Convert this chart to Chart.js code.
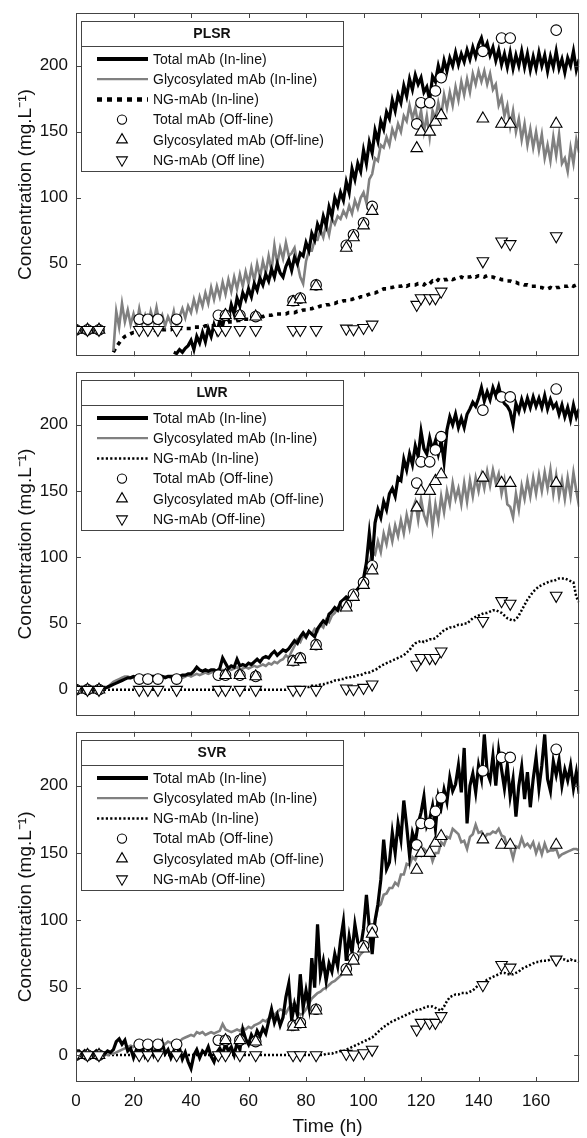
<!DOCTYPE html>
<html><head><meta charset="utf-8">
<script src="https://cdn.jsdelivr.net/npm/chart.js@4"></script>
<style>
html,body{margin:0;padding:0;background:#fff;}
#wrap{position:relative;width:587px;height:1138px;background:#fff;overflow:hidden;}
canvas{position:absolute;left:0;}
</style></head><body>
<div id="wrap">
<canvas id="c1" width="587" height="364" style="top:0px;width:587px;height:364px"></canvas>
<canvas id="c2" width="587" height="360" style="top:364px;width:587px;height:360px"></canvas>
<canvas id="c3" width="587" height="414" style="top:724px;width:587px;height:414px"></canvas>
</div>
<script>
// ---------- DATA ----------
const timeH = [
0,1,2,3,4,5,6,7,8,9,
10,11,12,13,14,15,16,17,18,19,
20,21,22,23,24,25,26,27,28,29,
30,31,32,33,34,35,36,37,38,39,
40,41,42,43,44,45,46,47,48,49,
50,51,52,53,54,55,56,57,58,59,
60,61,62,63,64,65,66,67,68,69,
70,71,72,73,74,75,76,77,78,79,
80,81,82,83,84,85,86,87,88,89,
90,91,92,93,94,95,96,97,98,99,
100,101,102,103,104,105,106,107,108,109,
110,111,112,113,114,115,116,117,118,119,
120,121,122,123,124,125,126,127,128,129,
130,131,132,133,134,135,136,137,138,139,
140,141,142,143,144,145,146,147,148,149,
150,151,152,153,154,155,156,157,158,159,
160,161,162,163,164,165,166,167,168,169,
170,171,172,173,174,175];

// PLSR in-line
const plsrTotal = [
null,null,null,null,null,null,null,null,null,null,
null,null,null,null,null,null,null,null,null,null,
null,null,null,null,null,null,null,null,null,null,
null,null,null,null,-17,-18,-15,-17,-14,-12,
-8,-15,-5,-10,-2,-9,1,-5,4,-2,
7,3,13,8,19,12,24,18,28,23,
31,25,35,30,39,34,42,37,46,40,
50,43,40,48,53,45,55,50,58,56,
66,60,73,68,80,75,86,79,93,86,
100,94,104,98,112,104,122,114,126,120,
136,126,142,134,151,143,158,152,165,160,
174,166,178,172,185,177,190,182,193,186,
191,180,184,174,192,188,200,192,204,196,
206,200,210,201,209,203,212,205,214,207,
216,221,212,217,208,214,204,212,201,209,
199,210,198,208,200,211,199,209,197,207,
198,210,200,208,196,207,199,211,198,205,
195,206,200,211,197,205];
const plsrGly = [
null,null,null,null,null,null,null,null,null,null,
null,null,null,-16,14,2,20,6,15,4,
12,3,16,5,11,2,14,6,17,5,
11,3,10,5,14,2,10,16,9,18,
13,23,15,25,18,28,20,32,23,33,
25,36,27,38,29,40,31,42,33,44,
35,47,37,50,40,52,43,56,45,64,
50,62,54,66,56,58,62,50,40,35,
52,60,60,68,68,76,70,80,72,84,
80,86,84,90,86,94,88,98,92,100,
104,96,114,118,130,128,140,138,146,140,
152,146,156,150,162,158,170,160,168,156,
166,150,162,146,166,160,172,162,178,168,
180,170,184,174,188,178,190,180,194,186,
196,188,196,186,194,182,186,170,176,162,
170,154,166,150,160,144,156,140,152,138,
150,136,148,130,140,128,146,132,148,126,
130,120,138,126,144,134];
const plsrNG = [
null,null,null,null,null,null,null,null,null,null,
null,null,null,-17,-13,-10,-7,-5,-4,-3,
-2,-2,-1,-1,0,-1,0,0,-1,0,
0,0,0,0,1,0,1,1,1,1,
1,2,2,2,2,3,3,3,3,4,
4,5,5,6,6,6,7,7,8,8,
8,9,9,10,10,10,11,11,11,12,
12,12,12,12,13,13,13,14,14,15,
15,16,16,17,17,18,18,19,19,20,
20,21,21,22,22,23,23,24,24,25,
25,26,27,28,28,29,30,31,31,32,
32,33,33,33,34,33,34,34,34,35,
35,34,36,35,37,36,38,37,38,38,
39,38,39,39,40,39,40,40,41,40,
41,41,40,41,40,40,39,39,38,38,
37,37,36,36,35,35,34,34,33,33,
33,32,32,31,31,32,31,32,32,33,
33,33,34,33,34,34];

// LWR in-line
const lwrTotal = [
0,0,0,0,0,0,0,0,0,0,
1,2,3,4,5,6,7,8,9,9,
10,9,10,9,10,9,10,10,9,10,
10,9,10,10,10,10,10,11,11,12,
12,14,17,15,14,15,14,15,15,14,
16,24,20,16,18,17,23,18,19,18,
20,19,21,23,21,24,25,24,27,29,
26,28,30,29,31,34,37,35,40,43,
40,44,42,40,46,49,52,50,57,59,
62,60,66,68,70,69,72,74,76,79,
84,96,118,98,126,136,130,142,136,148,
152,146,160,158,174,166,178,170,184,176,
195,182,178,190,181,188,178,188,172,196,
206,200,208,198,205,198,208,212,217,214,
220,228,218,225,219,228,222,229,220,216,
214,210,200,216,210,219,212,220,213,221,
214,220,213,222,212,219,213,216,208,215,
206,213,204,215,206,212];
const lwrGly = [
0,0,0,0,0,0,0,0,0,0,
1,2,4,6,7,8,9,10,10,9,
10,10,9,10,11,10,9,10,10,9,
10,10,10,9,10,10,10,9,10,11,
10,11,12,11,12,13,12,13,14,13,
14,15,14,16,15,16,17,15,16,17,
16,17,18,17,18,19,18,20,19,21,
20,22,23,26,24,29,33,38,36,41,
39,44,42,46,44,49,47,53,51,56,
58,62,60,66,64,70,68,74,76,80,
84,92,95,104,102,112,104,118,110,122,
112,124,116,128,118,132,122,136,142,128,
144,132,126,142,122,140,128,146,134,150,
140,156,144,152,140,156,142,158,146,160,
150,162,152,165,154,166,156,163,148,158,
140,138,130,148,136,154,144,158,146,160,
148,162,150,164,152,166,148,162,146,158,
144,160,146,164,150,138];
const lwrNG = [
0,0,0,0,0,0,0,0,0,0,
0,0,0,0,0,0,0,0,0,0,
0,0,0,0,0,0,0,0,0,0,
0,0,0,0,0,0,0,0,0,0,
0,0,0,0,0,0,0,0,0,0,
0,0,0,0,0,0,0,0,0,0,
0,0,0,0,0,0,0,0,0,0,
0,0,0,0,1,1,1,1,2,2,
2,2,3,3,3,4,4,5,5,6,
7,7,8,8,9,9,10,10,11,11,
12,13,13,14,15,16,18,19,20,21,
22,23,24,25,26,28,30,33,35,36,
37,36,37,38,38,39,41,43,45,46,
47,47,48,49,49,50,50,52,54,55,
56,57,58,58,59,60,60,59,58,56,
54,53,52,53,56,60,64,68,71,74,
76,78,79,80,81,82,82,83,84,84,
84,83,82,81,70,66];

// SVR in-line
const svrTotal = [
2,3,1,3,0,2,1,3,0,2,
1,3,2,4,10,12,8,11,3,5,
-2,4,1,6,-1,3,7,0,5,2,
9,1,4,-2,3,0,5,-3,2,-5,
-10,0,4,-2,3,1,6,-1,-5,2,
5,1,8,3,6,0,9,4,19,12,
8,15,11,18,14,20,16,25,34,24,
30,22,28,43,53,26,38,30,60,35,
48,36,72,50,97,60,70,55,68,62,
75,66,85,99,70,88,76,97,84,80,
94,119,95,75,100,112,130,160,138,143,
165,150,172,160,189,170,148,165,158,172,
180,192,170,175,185,168,192,184,197,188,
206,196,201,215,195,228,172,200,209,195,
215,205,238,210,204,222,200,226,212,198,
215,192,205,177,200,214,190,210,184,205,
221,198,215,238,205,196,218,208,219,200,
212,204,215,198,210,194];
const svrGly = [
0,0,0,1,0,1,0,0,1,0,
1,0,1,1,2,3,4,5,6,7,
6,8,7,8,7,8,9,8,9,8,
9,8,10,9,10,11,10,12,13,14,
15,14,17,16,17,15,16,17,16,17,
18,23,19,18,17,18,19,18,20,19,
21,20,22,23,24,26,25,27,28,30,
32,34,33,31,35,38,36,32,30,31,
34,38,42,44,46,47,49,50,52,54,
55,57,59,61,63,66,68,70,72,75,
77,82,84,92,99,110,112,119,120,124,
124,128,126,134,134,142,141,147,145,150,
148,153,151,152,144,150,150,158,156,162,
161,168,166,164,158,159,153,162,164,171,
165,166,161,164,164,166,165,168,163,162,
154,154,146,155,154,161,155,157,154,158,
150,156,149,157,151,152,152,153,147,149,
150,151,152,153,153,152];
const svrNG = [
0,0,0,0,0,0,0,0,0,0,
0,0,0,0,0,0,0,0,0,0,
0,0,0,0,0,0,0,0,0,0,
0,0,0,0,0,0,0,0,0,0,
0,0,0,0,0,0,0,0,0,0,
0,0,0,0,0,0,0,0,0,0,
0,0,0,0,0,0,0,0,0,0,
0,0,0,0,0,0,0,0,0,0,
0,0,0,0,0,0,0,1,1,1,
2,2,3,3,4,5,6,7,8,9,
10,11,12,13,15,17,19,21,22,24,
25,26,27,28,29,30,31,32,33,34,
34,35,36,36,36,35,34,33,36,40,
43,44,45,45,46,46,46,47,48,50,
52,53,54,56,57,58,59,60,61,61,
60,60,60,61,62,64,65,66,67,68,
69,69,70,70,70,71,71,71,72,71,
71,70,71,70,70,69];

// Off-line measurements (shared)
const offTime  = [0,4,8,22,25,28.5,35,49.5,52,57,62.5,75.5,78,83.5,94,96.5,100,103,118.5,120,123,125,127,141.5,148,151,167];
const offTotal = [0,0,0,8,8,8,8,11,11,11,10,22,24,34,64,72,81,93.5,156,172,172,181,191,211,221,221,227];
const offGly   = [0,0,0,null,null,null,null,null,11,11,10,21,23,33,62,70,79,90,137.5,150,150,157.5,162.5,160,156,156,156];
const offNG    = [0,0,0,0,0,0,0,0,0,0,0,0,0,0,1,0.5,1.5,4,19,24,24,24,29,52,67,65,71];

// Axis ticks
const xTickValues = [0,20,40,60,80,100,120,140,160];
const yTicksPLSR = [50,100,150,200];
const yTicksOther = [0,50,100,150,200];

// ---------- RENDER ----------
const FONT = "'Liberation Sans', Arial, Helvetica, sans-serif";
const TXT = '#111';
const GRAY = '#808080';

function pts(xs, ys){ return xs.map((x,i)=>({x:x, y:ys[i]})); }

function drawMarker(ctx, style, x, y, r){
  ctx.beginPath();
  if (style === 'circle') {
    ctx.arc(x, y, r, 0, Math.PI*2);
  } else {
    let rad = style === 'down' ? Math.PI : 0;
    const T = Math.PI*2/3;
    ctx.moveTo(x + Math.sin(rad)*r, y - Math.cos(rad)*r);
    rad += T; ctx.lineTo(x + Math.sin(rad)*r, y - Math.cos(rad)*r);
    rad += T; ctx.lineTo(x + Math.sin(rad)*r, y - Math.cos(rad)*r);
    ctx.closePath();
  }
  ctx.fillStyle = '#fff'; ctx.fill();
  ctx.strokeStyle = '#000'; ctx.lineWidth = 1.1; ctx.setLineDash([]); ctx.stroke();
}

const framePlugin = {
  id: 'frame',
  afterDatasetsDraw(chart, args, o){
    const ctx = chart.ctx, a = chart.chartArea, sx = chart.scales.x, sy = chart.scales.y;
    ctx.save();
    ctx.setLineDash([]);
    ctx.strokeStyle = '#444'; ctx.lineWidth = 1;
    ctx.strokeRect(Math.round(a.left)+0.5, Math.round(a.top)+0.5, Math.round(a.right-a.left)-1, Math.round(a.bottom-a.top)-1);
    const tl = 5;
    ctx.beginPath();
    o.xTicks.forEach(v => {
      const x = Math.round(sx.getPixelForValue(v)) + 0.5;
      if (x <= a.left + 2 || x >= a.right - 2) return;
      ctx.moveTo(x, a.bottom); ctx.lineTo(x, a.bottom - tl);
      ctx.moveTo(x, a.top); ctx.lineTo(x, a.top + tl);
    });
    o.yTicks.forEach(v => {
      const y = Math.round(sy.getPixelForValue(v)) + 0.5;
      ctx.moveTo(a.left, y); ctx.lineTo(a.left + tl, y);
      ctx.moveTo(a.right, y); ctx.lineTo(a.right - tl, y);
    });
    ctx.stroke();
    ctx.restore();
  }
};

const boxLegendPlugin = {
  id: 'boxLegend',
  afterDraw(chart, args, o){
    const ctx = chart.ctx, a = chart.chartArea;
    const L = Math.round(a.left) + 5, T = Math.round(a.top) + 8, W = 262, H = 150;
    ctx.save();
    ctx.setLineDash([]);
    ctx.fillStyle = '#fff'; ctx.fillRect(L, T, W, H);
    ctx.strokeStyle = '#444'; ctx.lineWidth = 1;
    ctx.strokeRect(L + 0.5, T + 0.5, W, H);
    ctx.beginPath(); ctx.moveTo(L, T + 25.5); ctx.lineTo(L + W, T + 25.5); ctx.stroke();
    ctx.fillStyle = TXT; ctx.font = 'bold 14px ' + FONT;
    ctx.textAlign = 'center'; ctx.textBaseline = 'middle';
    ctx.fillText(o.title, L + W/2, T + 13.5);
    ctx.font = '14px ' + FONT; ctx.textAlign = 'left';
    o.items.forEach((it, i) => {
      const y = T + 38 + i*20.2;
      if (it.kind === 'line') {
        ctx.beginPath();
        ctx.setLineDash(it.dash || []);
        ctx.strokeStyle = it.color; ctx.lineWidth = it.width; ctx.lineCap = 'butt';
        ctx.moveTo(a.left + 21, y); ctx.lineTo(a.left + 72, y); ctx.stroke();
        ctx.setLineDash([]);
      } else {
        drawMarker(ctx, it.marker, a.left + 46, y, it.radius);
      }
      ctx.fillStyle = TXT;
      ctx.fillText(it.label, a.left + 77, y + 1);
    });
    ctx.restore();
  }
};

const CIRCLE_R = 5.3, TRI_R = 6.7;
const LEG_CIRCLE_R = 4.6, LEG_TRI_R = 6.2;

function makePanel(id, p){
  const datasets = [
    {data: pts(offTime, offNG), showLine:false, pointStyle:'triangle', pointRotation:180, pointRadius:TRI_R,
     pointBackgroundColor:'#fff', pointBorderColor:'#000', pointBorderWidth:1.1, order:0},
    {data: pts(offTime, offGly), showLine:false, pointStyle:'triangle', pointRadius:TRI_R,
     pointBackgroundColor:'#fff', pointBorderColor:'#000', pointBorderWidth:1.1, order:0},
    {data: pts(offTime, offTotal), showLine:false, pointStyle:'circle', pointRadius:CIRCLE_R,
     pointBackgroundColor:'#fff', pointBorderColor:'#000', pointBorderWidth:1.1, order:0},
    {data: pts(timeH, p.total), borderColor:'#000', borderWidth:3.2, pointRadius:0, order:1},
    {data: pts(timeH, p.gly), borderColor:GRAY, borderWidth:2.6, pointRadius:0, order:2},
    {data: pts(timeH, p.ng), borderColor:'#000', borderWidth:p.ngWidth, borderDash:p.ngDash, pointRadius:0, order:3}
  ];
  const legendItems = [
    {kind:'line', label:'Total mAb (In-line)', color:'#000', width:4},
    {kind:'line', label:'Glycosylated mAb (In-line)', color:GRAY, width:2.2},
    {kind:'line', label:'NG-mAb (In-line)', color:'#000', width:p.legNgWidth, dash:p.legNgDash},
    {kind:'marker', label:'Total mAb (Off-line)', marker:'circle', radius:LEG_CIRCLE_R},
    {kind:'marker', label:'Glycosylated mAb (Off-line)', marker:'up', radius:LEG_TRI_R},
    {kind:'marker', label:p.ngOffLabel, marker:'down', radius:LEG_TRI_R}
  ];
  const ctx = document.getElementById(id).getContext('2d');
  return new Chart(ctx, {
    type: 'line',
    data: {datasets},
    plugins: [framePlugin, boxLegendPlugin],
    options: {
      responsive: false, animation: false, events: [],
      layout: {padding: {top: p.padTop, bottom: p.padBottom, left: 0, right: 1}},
      elements: {line: {tension: 0, borderCapStyle:'butt', borderJoinStyle:'miter'}, point: {radius: 0}},
      plugins: {
        legend: {display: false}, tooltip: {enabled: false},
        frame: {xTicks: xTickValues, yTicks: p.yTicks},
        boxLegend: {title: p.title, items: legendItems}
      },
      scales: {
        x: {
          type: 'linear', min: 0, max: 175,
          grid: {display: false, drawTicks: false}, border: {display: false},
          ticks: {display: p.showX, font: {family: FONT, size: 17}, color: TXT, padding: 9, maxRotation: 0, autoSkip: false},
          afterBuildTicks: s => { s.ticks = xTickValues.map(v => ({value: v})); },
          afterFit: s => { s.height = p.xHeight; s.paddingLeft = 0; s.paddingRight = 0; },
          title: {display: p.showX, text: 'Time (h)', font: {family: FONT, size: 19}, color: TXT, padding: {top: 0, bottom: 0}}
        },
        y: {
          type: 'linear', min: -20, max: 240,
          grid: {display: false, drawTicks: false}, border: {display: false},
          ticks: {font: {family: FONT, size: 17}, color: TXT, padding: 8},
          afterBuildTicks: s => { s.ticks = p.yTicks.map(v => ({value: v})); },
          afterFit: s => { s.width = 76; s.paddingTop = 0; s.paddingBottom = 0; },
          title: {display: true, text: 'Concentration (mg.L\u207B\u00B9)', font: {family: FONT, size: 19}, color: TXT, padding: {top: 14, bottom: 0}}
        }
      }
    }
  });
}

makePanel('c1', {title:'PLSR', total:plsrTotal, gly:plsrGly, ng:plsrNG, yTicks:yTicksPLSR,
  ngDash:[4,4.5], ngWidth:3.6, legNgDash:[5,5], legNgWidth:4.5, ngOffLabel:'NG-mAb (Off line)',
  padTop:13, padBottom:2, showX:false, xHeight:0});
makePanel('c2', {title:'LWR', total:lwrTotal, gly:lwrGly, ng:lwrNG, yTicks:yTicksOther,
  ngDash:[2,2], ngWidth:2.5, legNgDash:[2.2,2.2], legNgWidth:2.5, ngOffLabel:'NG-mAb (Off-line)',
  padTop:2, padBottom:2, showX:false, xHeight:0});
makePanel('c3', {title:'SVR', total:svrTotal, gly:svrGly, ng:svrNG, yTicks:yTicksOther,
  ngDash:[2,2], ngWidth:2.5, legNgDash:[2.2,2.2], legNgWidth:2.5, ngOffLabel:'NG-mAb (Off-line)',
  padTop:3, padBottom:0, showX:true, xHeight:56});
</script>
</body></html>
